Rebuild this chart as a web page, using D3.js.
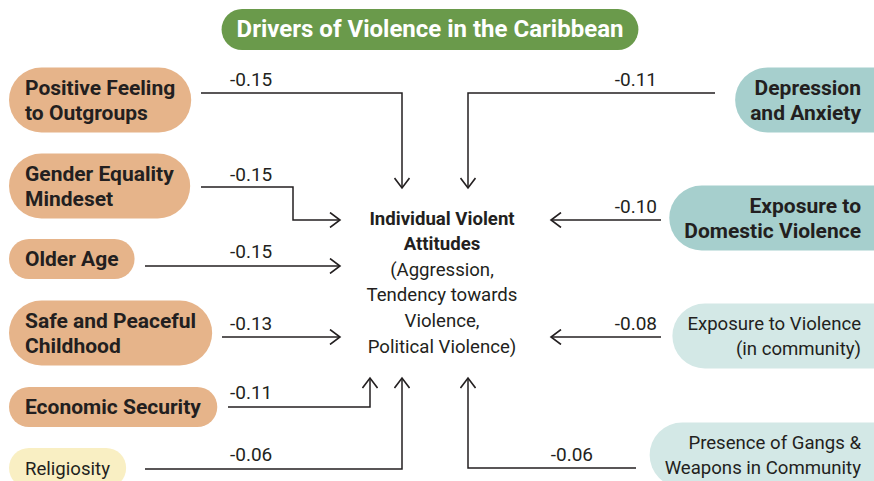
<!DOCTYPE html>
<html>
<head>
<meta charset="utf-8">
<script src="https://cdn.jsdelivr.net/npm/d3@7"></script>
<style>
  html, body { margin: 0; padding: 0; background: #fff; }
  svg { display: block; font-family: Roboto, "Noto Sans", sans-serif; }
</style>
</head>
<body>
<svg id="chart"></svg>
<script>
const W = 874;
const H = 481;

const title = "Drivers of Violence in the Caribbean";

// left side drivers (protective)
const leftLabels = [
  ["Positive Feeling", "to Outgroups"],
  ["Gender Equality", "Mindeset"],
  ["Older Age"],
  ["Safe and Peaceful", "Childhood"],
  ["Economic Security"],
  ["Religiosity"]
];
const leftValues = [-0.15, -0.15, -0.15, -0.13, -0.11, -0.06];
const leftStrong = [true, true, true, true, true, false];

// right side drivers
const rightLabels = [
  ["Depression", "and Anxiety"],
  ["Exposure to", "Domestic Violence"],
  ["Exposure to Violence", "(in community)"],
  ["Presence of Gangs &", "Weapons in Community"]
];
const rightValues = [-0.11, -0.10, -0.08, -0.06];
const rightStrong = [true, true, false, false];

const centerBold = ["Individual Violent", "Attitudes"];
const centerPlain = ["(Aggression,", "Tendency towards", "Violence,", "Political Violence)"];

// ---- layout (positions only) ----
const leftRowY = [100, 186, 259, 333, 407, 468];
const rightRowY = [100, 218, 336, 455];
const leftRoutes = [
  { y: 93, type: "down", x: 402, end: 188 },
  { y: 187, type: "step", x: 293, y2: 220, end: 340 },
  { y: 266, type: "right", end: 340 },
  { y: 337, type: "right", end: 340 },
  { y: 407, type: "up", x: 370, end: 378 },
  { y: 469, type: "up", x: 402, end: 378 }
];
const rightRoutes = [
  { y: 93, type: "down", x: 468, end: 188 },
  { y: 220, type: "left", end: 551 },
  { y: 337, type: "left", end: 551 },
  { y: 468, type: "up", x: 468, end: 378 }
];
const leftLabelY = [86, 181, 258, 330, 399, 461];
const rightLabelY = [86, 213, 330, 461];
const leftStart = [201, 201, 145, 222, 228, 145];
const rightStart = [715, 661, 661, 636];
const rightAnchorX = [657, 657, 657, 593];

const colLeft = "#e6b48a";
const colLeftPale = "#f9efc3";
const colRight = "#a6cfcd";
const colRightPale = "#d3e8e6";
const ink = "#231f20";

const svg = d3.select("#chart")
  .attr("width", W)
  .attr("height", H)
  .attr("viewBox", `0 0 ${W} ${H}`);

// arrowhead (open chevron)
svg.append("defs").append("marker")
  .attr("id", "head")
  .attr("viewBox", "-12 -8 14 16")
  .attr("refX", 0)
  .attr("refY", 0)
  .attr("markerWidth", 14)
  .attr("markerHeight", 16)
  .attr("markerUnits", "userSpaceOnUse")
  .attr("orient", "auto")
  .append("path")
  .attr("d", "M-10,-7.5L0,0L-10,7.5")
  .attr("fill", "none")
  .attr("stroke", ink)
  .attr("stroke-width", 1.6);

/* =========================
   title pill
   ========================= */
const titleG = svg.append("g");
const titleRect = titleG.append("rect")
  .attr("fill", "#6a9a4b");
const titleText = titleG.append("text")
  .attr("x", 430)
  .attr("y", 29)
  .attr("dy", "0.35em")
  .attr("text-anchor", "middle")
  .attr("fill", "#fff")
  .attr("font-weight", 700)
  .attr("font-size", 24)
  .text(title);
const tb = titleText.node().getBBox();
titleRect
  .attr("x", tb.x - 15)
  .attr("y", 9)
  .attr("width", tb.width + 30)
  .attr("height", 41)
  .attr("rx", 20.5);

/* =========================
   pill boxes
   ========================= */
const lineGap = 25.5;

function drawPill(lines, cy, side, strong, fill) {
  const g = svg.append("g");
  const rect = g.append("rect").attr("fill", fill);
  const n = lines.length;
  const tx = side === "left" ? 25 : 861;
  const t = g.append("text")
    .attr("font-size", strong ? 21 : 18.6)
    .attr("font-weight", strong ? 700 : 400)
    .attr("fill", ink)
    .attr("text-anchor", side === "left" ? "start" : "end");
  lines.forEach((s, i) => {
    t.append("tspan")
      .attr("x", tx)
      .attr("y", cy + (i - (n - 1) / 2) * lineGap)
      .attr("dy", "0.35em")
      .text(s);
  });
  const b = t.node().getBBox();
  const h = n === 1 ? 40 : 65;
  if (side === "left") {
    rect.attr("x", 9).attr("width", b.x + b.width + 16 - 9);
  } else {
    rect.attr("x", b.x - 15).attr("width", W + 40 - (b.x - 15));
  }
  rect.attr("y", cy - h / 2).attr("height", h).attr("rx", h / 2);
}

leftLabels.forEach((l, i) =>
  drawPill(l, leftRowY[i], "left", leftStrong[i], leftStrong[i] ? colLeft : colLeftPale));
rightLabels.forEach((l, i) =>
  drawPill(l, rightRowY[i], "right", rightStrong[i], rightStrong[i] ? colRight : colRightPale));

/* =========================
   centre outcome text
   ========================= */
const center = svg.append("text")
  .attr("text-anchor", "middle")
  .attr("fill", ink)
  .attr("font-size", 18.6);
centerBold.concat(centerPlain).forEach((s, i) => {
  center.append("tspan")
    .attr("x", 442)
    .attr("y", 218 + i * 25.6)
    .attr("dy", "0.35em")
    .attr("font-weight", i < centerBold.length ? 700 : 400)
    .text(s);
});

/* =========================
   arrows
   ========================= */
const line = d3.line();

function routePoints(r, startX) {
  if (r.type === "down" || r.type === "up") return [[startX, r.y], [r.x, r.y], [r.x, r.end]];
  if (r.type === "step") return [[startX, r.y], [r.x, r.y], [r.x, r.y2], [r.end, r.y2]];
  return [[startX, r.y], [r.end, r.y]];
}

leftRoutes.forEach((r, i) => {
  svg.append("path")
    .attr("d", line(routePoints(r, leftStart[i])))
    .attr("fill", "none")
    .attr("stroke", ink)
    .attr("stroke-width", 1.5)
    .attr("marker-end", "url(#head)");
});
rightRoutes.forEach((r, i) => {
  svg.append("path")
    .attr("d", line(routePoints(r, rightStart[i])))
    .attr("fill", "none")
    .attr("stroke", ink)
    .attr("stroke-width", 1.5)
    .attr("marker-end", "url(#head)");
});

/* =========================
   coefficient labels
   ========================= */
// plain hyphen like the original, not d3's unicode minus
const fmt = v => d3.format(".2f")(v).replace("\u2212", "-");

svg.selectAll("text.lv")
  .data(leftValues)
  .join("text")
  .attr("class", "lv")
  .attr("x", 230)
  .attr("y", (d, i) => leftLabelY[i])
  .attr("font-size", 19)
  .attr("fill", ink)
  .text(d => fmt(d));

svg.selectAll("text.rv")
  .data(rightValues)
  .join("text")
  .attr("class", "rv")
  .attr("x", (d, i) => rightAnchorX[i])
  .attr("y", (d, i) => rightLabelY[i])
  .attr("text-anchor", "end")
  .attr("font-size", 19)
  .attr("fill", ink)
  .text(d => fmt(d));
</script>
</body>
</html>
